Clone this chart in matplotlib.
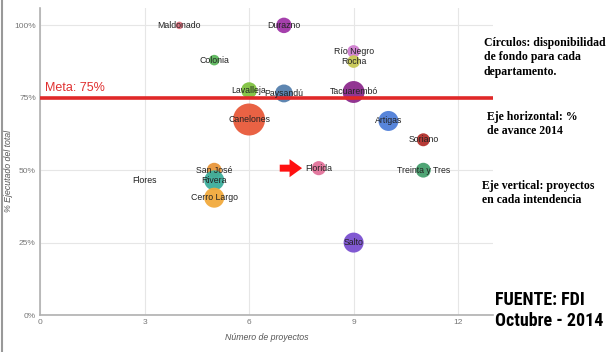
import matplotlib
matplotlib.use("Agg")
from matplotlib import pyplot as plt
from matplotlib.lines import Line2D
from matplotlib import font_manager
import numpy as np

# data ------------------------------------------------------------------
deptos = ["Maldonado", "Durazno", "Colonia", "Río Negro", "Rocha", "Lavalleja",
          "Paysandú", "Tacuarembó", "Canelones", "Artigas", "Soriano", "Florida",
          "Treinta y Tres", "San José", "Rivera", "Flores", "Cerro Largo", "Salto"]
proyectos = [4, 7, 5, 9, 9, 6, 7, 9, 6, 10, 11, 8, 11, 5, 5, 3, 5, 9]
ejecutado = [1.00, 1.00, 0.88, 0.91, 0.875, 0.776, 0.765, 0.77, 0.675, 0.67,
             0.605, 0.507, 0.50, 0.50, 0.465, 0.465, 0.405, 0.25]
fondos = [14, 60, 28, 40, 40, 64, 80, 120, 256, 100, 42, 50, 55, 55, 100, 0, 100, 100]
colores = ["#e07080", "#a035a8", "#5cb85c", "#cf7fcf", "#c9c955", "#80c240",
           "#5580ad", "#8c2a8c", "#e85a3a", "#4f7fd8", "#b3302c", "#e2729a",
           "#45a06e", "#e8963a", "#3cae9c", "#ffffff", "#f2aa3c", "#7a50d0"]
meta = 0.75

names = {f.name for f in font_manager.fontManager.ttflist}
cond = [n for n in ["Roboto Condensed", "Liberation Sans Narrow", "Open Sans Condensed"] if n in names]

# figure ----------------------------------------------------------------
fig = plt.figure(figsize=(6.16, 3.52), dpi=100)
ax = fig.add_axes([40/616, 1-315/352, (493-40)/616, (315-8)/352])

s = np.array(fondos) * 1.44**2
ax.scatter(proyectos, ejecutado, s=s, c=colores, alpha=0.95, linewidths=0, zorder=3)

for name, x, y in zip(deptos, proyectos, ejecutado):
    ax.text(x, y, name, ha="center", va="center", fontsize=6.3,
            family="Liberation Sans", color="#222222", zorder=5)

ax.axhline(meta, color="#e02828", lw=2.6, zorder=4)
ax.text(0.15, meta + 0.012, "Meta: 75%", color="#e03030", fontsize=9,
        family="Liberation Sans", va="bottom", ha="left", zorder=5)

ax.annotate("", xy=(7.6, 0.507), xytext=(6.8, 0.507),
            arrowprops=dict(arrowstyle="simple,head_width=1.3,head_length=0.9,tail_width=0.5",
                            color="#ff1010", lw=0), zorder=6)

ax.set_xlim(0, 13)
ax.set_ylim(0, 1.06)
ax.set_xticks([0, 3, 6, 9, 12])
ax.set_yticks([0, 0.25, 0.5, 0.75, 1.0])
ax.set_yticklabels(["0%", "25%", "50%", "75%", "100%"])
ax.tick_params(length=0, labelsize=6, colors="#777777", pad=3)
for lab in ax.get_xticklabels() + ax.get_yticklabels():
    lab.set_family("Liberation Sans")
ax.grid(True, color="#e6e6e6", lw=0.8)
ax.set_axisbelow(True)
for sp in ["top", "right"]:
    ax.spines[sp].set_visible(False)
for sp in ["left", "bottom"]:
    ax.spines[sp].set_color("#b0b0b0")
    ax.spines[sp].set_linewidth(1.2)
ax.set_xlabel("Número de proyectos", fontsize=6.3, style="italic",
              family="Liberation Sans", color="#555555", labelpad=5)
ax.set_ylabel("% Ejecutado del total", fontsize=6.3, style="italic",
              family="Liberation Sans", color="#555555")
ax.yaxis.set_label_coords(-0.06, 0.47)

# notas a la derecha
fig.text(484/616, 1-37/352, "Círculos: disponibilidad\nde fondo para cada\ndepartamento.",
         fontsize=8.5, family="Liberation Serif", weight="bold", va="top",
         linespacing=1.25)
fig.text(487/616, 1-111/352, "Eje horizontal: %\nde avance 2014",
         fontsize=8.5, family="Liberation Serif", weight="bold", va="top",
         linespacing=1.25)
fig.text(482/616, 1-180/352, "Eje vertical: proyectos\nen cada intendencia",
         fontsize=8.5, family="Liberation Serif", weight="bold", va="top",
         linespacing=1.25)
fig.text(495/616, 1-291/352, "FUENTE: FDI\nOctubre - 2014", fontsize=13,
         family=cond + ["Liberation Sans"], weight="bold",
         va="top", linespacing=1.2)

fig.add_artist(Line2D([2.5/616, 2.5/616], [0, 1], color="#999999", lw=1.5))

plt.savefig("out.png", dpi=100)
